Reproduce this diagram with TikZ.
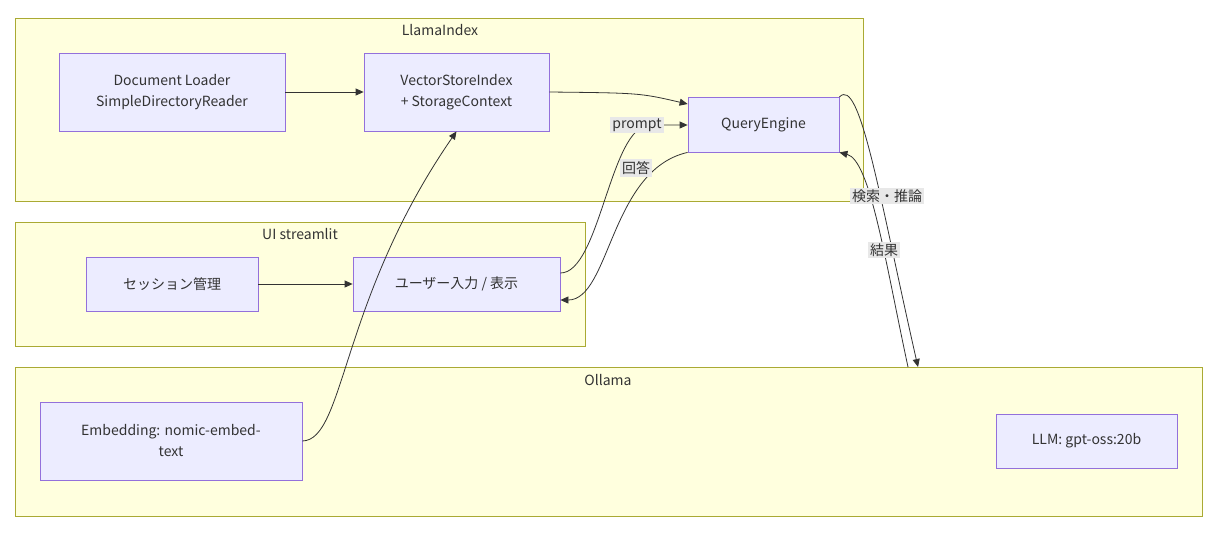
\documentclass[tikz,border=0pt]{standalone}
\usepackage{fontspec}
\setmainfont{Noto Sans CJK JP}
\usetikzlibrary{arrows.meta}
\definecolor{clfill}{HTML}{FFFFDE}
\definecolor{cldraw}{HTML}{AAAA33}
\definecolor{ndfill}{HTML}{ECECFF}
\definecolor{nddraw}{HTML}{9370DB}
\definecolor{lbfill}{HTML}{E8E8E8}
\tikzset{
  cluster/.style={draw=cldraw,fill=clfill,line width=0.8pt},
  box/.style={draw=nddraw,fill=ndfill,line width=0.8pt,align=center,font=\fontsize{14}{21}\selectfont,text=black!80},
  ttl/.style={font=\fontsize{14}{17}\selectfont,text=black!80},
  lbl/.style={fill=lbfill,inner sep=2pt,font=\fontsize{14}{17}\selectfont,text=black!80},
  link/.style={draw=black!80,line width=0.8pt,-{Triangle[length=8pt,width=7pt]}}
}
\begin{document}
\begin{tikzpicture}[x=1pt,y=-1pt]
\useasboundingbox (0,0) rectangle (1219,536);
\draw[cluster] (15,18) rectangle (863,201);
\draw[cluster] (15,222) rectangle (585,346);
\draw[cluster] (15,367) rectangle (1202,516);
\node[ttl](t1) at (440,30){LlamaIndex};
\node[ttl](t2) at (300,234){UI streamlit};
\node[ttl](t3) at (608,380){Ollama};

\node(loader)[box,minimum width=226pt,minimum height=78pt] at (172,92){Document Loader\\SimpleDirectoryReader};
\node(index)[box,minimum width=185pt,minimum height=78pt] at (456.5,92){VectorStoreIndex\\+ StorageContext};
\node(query)[box,minimum width=151pt,minimum height=55pt] at (763.5,124.5){QueryEngine};
\node(session)[box,minimum width=172pt,minimum height=54pt] at (172,284){セッション管理};
\node(ui)[box,minimum width=207pt,minimum height=54pt] at (456.5,284){ユーザー入力 / 表示};
\node(embed)[box,minimum width=262pt,minimum height=78pt] at (171,441){Embedding: nomic-embed-\\text};
\node(llm)[box,minimum width=181pt,minimum height=54pt] at (1086.5,441){LLM: gpt-oss:20b};
\coordinate(ollin) at (918,367);
\coordinate(ollout) at (908,367);

\path[link] (loader) -- (index);
\path[link] (index.east) .. controls (640,93) .. (query.west|-0,104);
\path[link] (session) -- (ui);
\path[link] (ui.east|-0,273) .. controls (600,273) and (610,125) .. (650,125) -- (query.west|-0,125);
\path[link] (query.south west) .. controls (610,170) and (610,300) .. (ui.east|-0,300);
\path[link] (embed.east) .. controls (345,440) and (340,300) .. (index.south);
\path[link] (query.north east|-0,97) .. controls (860,75) and (880,200) .. (ollin);
\path[link] (ollout) .. controls (885,260) and (870,160) .. (query.south east);

\node(prompt)[lbl] at (637,125){prompt};
\node(answer)[lbl] at (636,168){回答};
\node(search)[lbl] at (887,196){検索・推論};
\node(result)[lbl] at (884,250){結果};
\end{tikzpicture}
\end{document}
